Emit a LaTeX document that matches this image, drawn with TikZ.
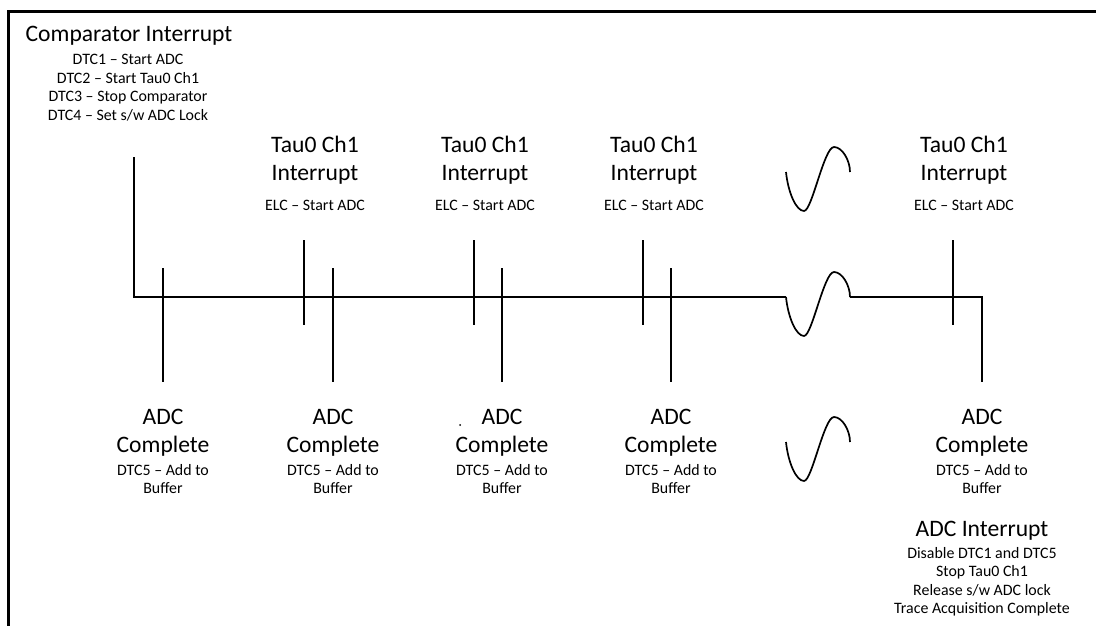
\documentclass[tikz,border=0pt]{standalone}
\usepackage{fontspec}
\setmainfont{Carlito}
\usepackage{tikz}
\usetikzlibrary{positioning}

\begin{document}
\begin{tikzpicture}[x=1pt, y=-1pt, line width=1.7pt,
    grande/.style={font=\fontsize{23.6}{28}\selectfont, inner sep=0pt, anchor=base},
    chica/.style={font=\fontsize{15.9}{19}\selectfont, inner sep=0pt, anchor=base}]
    \useasboundingbox (0,0) rectangle (1096,626);

    % Marco superior e izquierdo
    \draw[line width=3pt] (8.5,626) -- (8.5,11.5) -- (1096,11.5);

    % Interrupcion del comparador
    \node[grande] (comp) at (129,42) {Comparator Interrupt};
    \foreach \t [count=\k] in {DTC1 -- Start ADC, DTC2 -- Start Tau0 Ch1, DTC3 -- Stop Comparator, DTC4 -- Set s/w ADC Lock} {
        \node[chica] (dtc\k) at (128, 46.5+18.5*\k) {\t};
    }

    % Linea de tiempo
    \draw (134,157) -- (134,297) -- (786,297);
    \draw (850,297) -- (982,297) -- (982,382);

    % Cortes de la escala (ondas)
    \foreach \y in {172,297,442} {
        \draw (786,\y) .. controls (788,\y+20) and (796,\y+39) .. (804,\y+39)
              .. controls (812,\y+39) and (824,\y-25) .. (834,\y-25)
              .. controls (842,\y-25) and (850,\y-12) .. (850,\y);
    }

    % Marcas de Tau0 Ch1 con su texto
    \foreach \x [count=\k] in {304,474,643,953} {
        \draw (\x,240) -- (\x,325);
        \node[grande] (tau\k) at (\x+11,152) {Tau0 Ch1};
        \node[grande] (int\k) at (\x+11,180) {Interrupt};
        \node[chica] (elc\k) at (\x+11,210) {ELC -- Start ADC};
    }

    % Marcas de ADC
    \foreach \x in {163,333,502,671} {
        \draw (\x,268) -- (\x,382);
    }
    \foreach \x [count=\k] in {163,333,502,671,982} {
        \node[grande] (adc\k) at (\x,424) {ADC};
        \node[grande] (cmp\k) at (\x,452) {Complete};
        \node[chica] (dtcb\k) at (\x,475) {DTC5 -- Add to};
        \node[chica] (buf\k) at (\x,493.5) {Buffer};
    }
    \fill (460,425) circle (1pt);

    % Interrupcion del ADC
    \node[grande] (adcint) at (982,536) {ADC Interrupt};
    \foreach \t [count=\k] in {Disable DTC1 and DTC5, Stop Tau0 Ch1, Release s/w ADC lock, Trace Acquisition Complete} {
        \node[chica] (fin\k) at (982, 539.5+18.5*\k) {\t};
    }
\end{tikzpicture}
\end{document}
